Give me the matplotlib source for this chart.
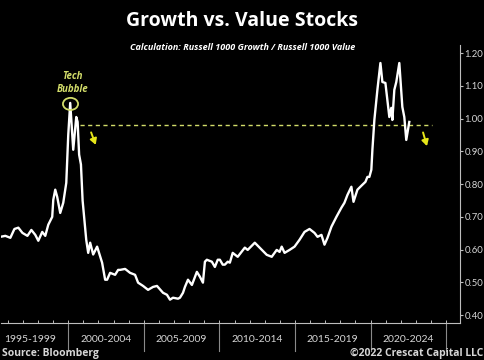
import matplotlib
matplotlib.use("Agg")
import matplotlib.pyplot as plt
import matplotlib.transforms as mtransforms
from matplotlib.patches import Ellipse

# ---------------- data ----------------
years = [1995.51, 1995.84, 1996.17, 1996.44, 1996.70, 1996.97, 1997.30, 1997.56, 1997.82, 1998.02,
         1998.28, 1998.48, 1998.68, 1998.94, 1999.01, 1999.14, 1999.27, 1999.47, 1999.67, 1999.87,
         2000.00, 2000.13, 2000.33, 2000.53, 2000.62, 2000.72, 2000.84, 2000.95, 2001.05, 2001.19,
         2001.32, 2001.45, 2001.65, 2001.91, 2002.24, 2002.44, 2002.57, 2002.77, 2003.10, 2003.30,
         2003.43, 2003.76, 2004.09, 2004.42, 2004.62, 2004.95, 2005.28, 2005.61, 2005.87, 2006.27,
         2006.53, 2006.73, 2006.93, 2007.26, 2007.39, 2007.59, 2007.72, 2007.92, 2008.18, 2008.51,
         2008.71, 2008.91, 2009.04, 2009.17, 2009.50, 2009.70, 2009.89, 2010.03, 2010.22, 2010.36,
         2010.55, 2010.69, 2010.88, 2011.21, 2011.68, 2011.87, 2012.34, 2012.66, 2013.13, 2013.46,
         2013.79, 2013.98, 2014.12, 2014.31, 2014.64, 2014.97, 2015.30, 2015.63, 2015.96, 2016.29,
         2016.49, 2016.75, 2016.95, 2017.15, 2017.41, 2017.74, 2018.07, 2018.27, 2018.47, 2018.73,
         2018.87, 2019.13, 2019.39, 2019.66, 2019.79, 2019.92, 2020.05, 2020.12, 2020.25, 2020.45,
         2020.65, 2020.78, 2020.98, 2021.11, 2021.24, 2021.37, 2021.44, 2021.57, 2021.70, 2021.90,
         2022.10, 2022.23, 2022.36, 2022.56]
ratio = [0.639, 0.642, 0.636, 0.663, 0.667, 0.651, 0.642, 0.660, 0.645, 0.627,
         0.654, 0.642, 0.676, 0.700, 0.752, 0.783, 0.761, 0.712, 0.743, 0.804,
         0.950, 1.048, 0.905, 1.005, 0.990, 0.890, 0.860, 0.750, 0.700, 0.630,
         0.590, 0.621, 0.585, 0.609, 0.560, 0.508, 0.508, 0.529, 0.523, 0.538,
         0.538, 0.541, 0.529, 0.523, 0.499, 0.489, 0.477, 0.486, 0.489, 0.468,
         0.462, 0.447, 0.453, 0.450, 0.453, 0.468, 0.486, 0.508, 0.492, 0.532,
         0.517, 0.499, 0.563, 0.569, 0.563, 0.547, 0.569, 0.569, 0.554, 0.554,
         0.563, 0.560, 0.590, 0.578, 0.606, 0.599, 0.621, 0.606, 0.584, 0.578,
         0.599, 0.593, 0.609, 0.590, 0.599, 0.609, 0.630, 0.654, 0.663, 0.651,
         0.639, 0.645, 0.615, 0.636, 0.670, 0.700, 0.728, 0.743, 0.767, 0.792,
         0.746, 0.783, 0.795, 0.807, 0.822, 0.822, 0.844, 0.905, 0.996, 1.088,
         1.170, 1.112, 1.109, 1.057, 1.005, 1.033, 0.996, 1.088, 1.112, 1.170,
         1.036, 1.005, 0.935, 0.990]

period_labels = ["1995-1999", "2000-2004", "2005-2009", "2010-2014", "2015-2019", "2020-2024"]
period_starts = [1995, 2000, 2005, 2010, 2015, 2020]
y_ticks = [0.40, 0.50, 0.60, 0.70, 0.80, 0.90, 1.00, 1.10, 1.20]
last_value = 0.98
bubble_peak = (2000.15, 1.045)
arrows = [((2001.45, 0.966), (2001.88, 0.912)), ((2023.42, 0.966), (2023.78, 0.908))]

# ---------------- style ----------------
BG = "black"
AXC = "#bdbdbd"
TXT = "#d6d6d6"
YEL = "#e6e619"
YGRN = "#d2dc6a"
FONT = "Lato"

fig = plt.figure(figsize=(4.85, 3.60), dpi=100, facecolor=BG)
ax = fig.add_axes([0.002, 0.103, 0.946, 0.772], facecolor=BG)
ax.set_title("")

ax.plot(years, ratio, color="white", lw=1.7, solid_joinstyle="round", zorder=3)

ax.set_xlim(1995.55, 2025.9)
ax.set_ylim(0.376, 1.225)

for s in ["left", "top"]:
    ax.spines[s].set_visible(False)
for s in ["right", "bottom"]:
    ax.spines[s].set_color(AXC)
    ax.spines[s].set_linewidth(0.8)

# y axis on right
ax.yaxis.tick_right()
ax.set_yticks(y_ticks)
ax.set_yticklabels([f"{v:.2f}" for v in y_ticks], family=FONT)
ax.tick_params(axis="y", colors=AXC, labelcolor=TXT, labelsize=6.8, length=2.5, width=0.8, pad=1)

# x axis: yearly small ticks, labels centered in 5-year blocks
ax.set_xticks(list(range(1996, 2026)))
ax.set_xticklabels([])
ax.tick_params(axis="x", which="major", direction="in", length=2.5, width=0.7, colors=AXC)
ax.set_xticks([p + 2.5 for p in period_starts], minor=True)
ax.set_xticklabels(period_labels, minor=True, family=FONT)
ax.tick_params(axis="x", which="minor", length=0, labelsize=7.5, labelcolor=TXT, pad=9)

trans = mtransforms.blended_transform_factory(ax.transData, ax.transAxes)
for p in period_starts[1:] + [2025]:
    ax.plot([p, p], [0, -0.1], transform=trans, color="#8a8a8a", lw=0.8, clip_on=False)

# dashed reference at last value
ax.plot([2000.79, 2024.08], [last_value, last_value], color=YGRN, lw=1.0, ls=(0, (3, 2.5)), zorder=2)

# last value box
ax.text(1.006, last_value, f"{last_value:.2f}", transform=trans, ha="left", va="center",
        fontsize=6.8, color="#e8e8c0", zorder=10, clip_on=False, family=FONT,
        bbox=dict(boxstyle="round,pad=0.15,rounding_size=0.3", fc="black", ec="#d8d890", lw=0.8))

# tech bubble
ax.add_patch(Ellipse(bubble_peak, width=1.0, height=0.037, fill=False, ec=YGRN, lw=1.3, zorder=4))
ax.text(2000.26, 1.109, "Tech\nBubble", ha="center", va="center", fontsize=7, color=YGRN,
        fontweight="bold", fontstyle="italic", linespacing=1.25, family="Open Sans")

for (x0, y0), (x1, y1) in arrows:
    ax.annotate("", xy=(x1, y1), xytext=(x0, y0),
                arrowprops=dict(arrowstyle="-|>,head_length=0.35,head_width=0.2", color=YEL, lw=1.4))

# titles
fig.text(0.5, 0.942, "Growth vs. Value Stocks", ha="center", va="center", color="white",
         fontsize=14, fontweight="bold", family="Open Sans")
fig.text(0.5, 0.868, "Calculation: Russell 1000 Growth / Russell 1000 Value", ha="center", va="center",
         color="white", fontsize=6.5, fontweight="bold", fontstyle="italic", family="Open Sans")

fig.text(0.004, 0.017, "Source: Bloomberg", ha="left", va="center", color=TXT, fontsize=7.5,
         fontweight="bold", family="Open Sans")
fig.text(0.996, 0.017, "\u00a92022 Crescat Capital LLC", ha="right", va="center", color=TXT, fontsize=7.5,
         fontweight="bold", family="Open Sans")

fig.savefig("out.png", dpi=100, facecolor=BG)
